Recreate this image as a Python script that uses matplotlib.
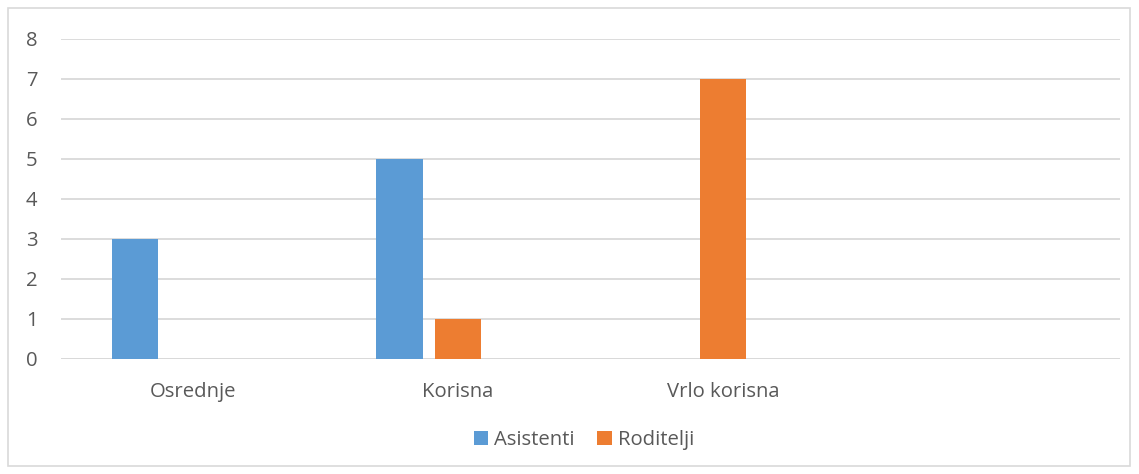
import matplotlib
matplotlib.use("Agg")
import matplotlib.pyplot as plt
from matplotlib.patches import Rectangle
import numpy as np

categories = ["Osrednje", "Korisna", "Vrlo korisna", ""]
series_names = ["Asistenti", "Roditelji"]
asistenti = [3, 5, 0, 0]
roditelji = [0, 1, 7, 0]
yticks = [0, 1, 2, 3, 4, 5, 6, 7, 8]

blue = "#5B9BD5"
orange = "#ED7D31"
grid = "#D9D9D9"
txt = "#595959"

plt.rcParams['font.family'] = ['Open Sans', 'DejaVu Sans']
fs = 14.6

fig = plt.figure(figsize=(11.39, 4.74), dpi=100)
fig.patches.append(Rectangle((8/1139, 8/474), 1122/1139, 458/474, transform=fig.transFigure,
                             fill=False, edgecolor=grid, linewidth=1.2))
ax = fig.add_axes([61/1139, 115.5/474, (1120-61)/1139, 320/474])

x = np.arange(len(categories))
w = 0.1745
step = 0.2216
ax.bar(x - step, asistenti, width=w, color=blue, label=series_names[0], zorder=3)
ax.bar(x, roditelji, width=w, color=orange, label=series_names[1], zorder=3)

ax.set_xlim(-0.5, len(categories) - 0.5)
ax.set_ylim(0, 8)
ax.set_yticks(yticks)
ax.set_yticklabels([str(v) for v in yticks], color=txt, fontsize=fs)
ax.set_xticks(x)
ax.set_xticklabels(categories, color=txt, fontsize=fs)
ax.tick_params(axis='both', length=0)
ax.tick_params(axis='y', pad=17)
ax.tick_params(axis='x', pad=17)
ax.yaxis.grid(True, color=grid, linewidth=1.3, zorder=0)
ax.set_axisbelow(True)
for s in ax.spines.values():
    s.set_visible(False)
ax.axhline(0, color=grid, linewidth=1.3, zorder=2)

leg = fig.legend(loc='center', bbox_to_anchor=(584/1139, 1 - 440/474), ncol=2, frameon=False,
                 fontsize=fs, handlelength=0.72, handleheight=0.72, handletextpad=0.3,
                 columnspacing=1.1)
for t in leg.get_texts():
    t.set_color(txt)

fig.savefig("out.png", dpi=100)
